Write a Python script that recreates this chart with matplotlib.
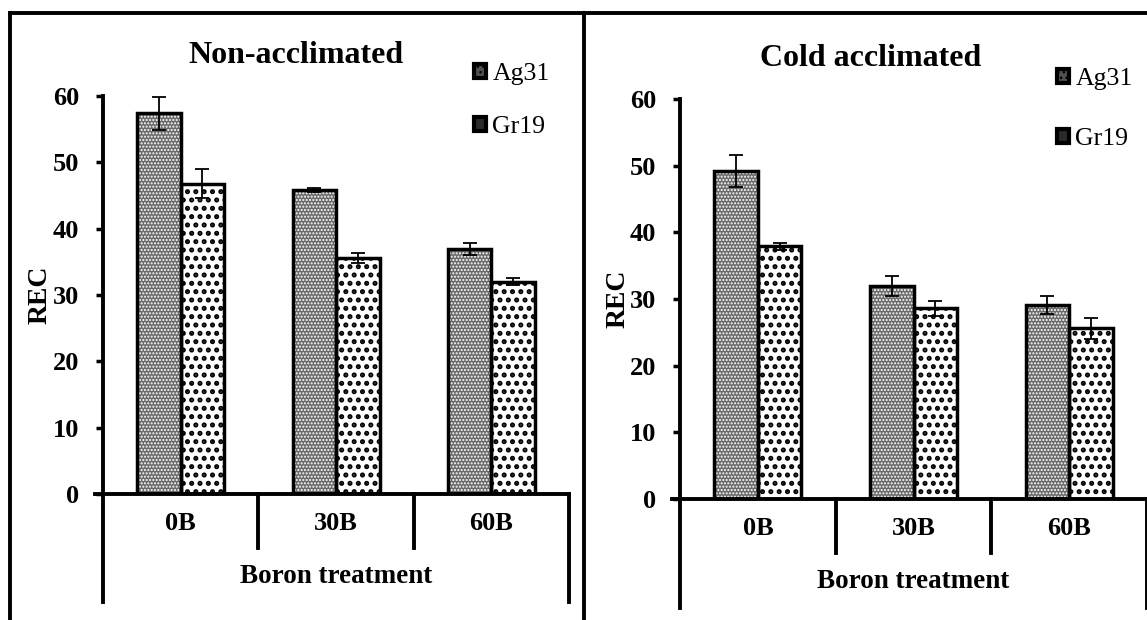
import matplotlib.pyplot as plt
from matplotlib.lines import Line2D
from matplotlib.patches import Patch
import numpy as np

plt.rcParams['font.family'] = ['Liberation Serif', 'DejaVu Serif']

categories = ["0B", "30B", "60B"]
series = ["Ag31", "Gr19"]

# Non-acclimated
non_ag31 = [57.4, 45.9, 37.0]
non_ag31_err = [2.5, 0.3, 0.9]
non_gr19 = [46.8, 35.6, 32.0]
non_gr19_err = [2.2, 0.8, 0.5]

# Cold acclimated
cold_ag31 = [49.2, 31.9, 29.1]
cold_ag31_err = [2.4, 1.5, 1.4]
cold_gr19 = [37.9, 28.6, 25.6]
cold_gr19_err = [0.5, 1.1, 1.6]

fs = 19
bar_w = 0.28
ag_face, ag_hatch = "#6a6a6a", "....."
gr_face, gr_hatch = "white", ".."


def draw_panel(ax, ag, ag_err, gr, gr_err, title, title_xy, leg_xy, leg_space):
    x = np.arange(len(categories))
    for xs, vals, errs, face, hatch, hcol, hlw in [
        (x - bar_w / 2, ag, ag_err, ag_face, ag_hatch, "white", 1.0),
        (x + bar_w / 2, gr, gr_err, gr_face, gr_hatch, "black", 2.4),
    ]:
        with plt.rc_context({"hatch.linewidth": hlw}):
            ax.bar(xs, vals, bar_w, color=face, hatch=hatch, edgecolor=hcol, linewidth=0, zorder=2)
        ax.bar(xs, vals, bar_w, fill=False, edgecolor="black", linewidth=2.5, zorder=3)
        ax.errorbar(xs, vals, yerr=errs, fmt="none", ecolor="black", elinewidth=1.3,
                    capsize=5, capthick=1.3, zorder=4)

    ax.set_xlim(-0.5, 2.5)
    ax.set_ylim(0, 60)
    ax.set_yticks(range(0, 61, 10))
    ax.set_xticks(x)
    ax.set_xticklabels(categories, fontweight="bold", fontsize=fs)
    ax.tick_params(axis="x", length=0, pad=13)
    ax.tick_params(axis="y", length=5, width=2.5, direction="out", pad=12, labelsize=fs)
    for lab in ax.get_yticklabels():
        lab.set_fontweight("bold")
    for s in ["top", "right"]:
        ax.spines[s].set_visible(False)
    for s in ["left", "bottom"]:
        ax.spines[s].set_linewidth(2.8)
    ax.spines["bottom"].set_bounds(-0.55, 2.5)

    # category separators below the axis
    trans = ax.get_xaxis_transform()
    for xv in [-0.5, 0.5, 1.5, 2.5]:
        bottom = -0.272 if xv in (-0.5, 2.5) else -0.136
        ax.add_line(Line2D([xv, xv], [0, bottom], transform=trans, color="black",
                           linewidth=2.8, clip_on=False))

    ax.text(0.5, -0.207, "Boron treatment", transform=ax.transAxes, ha="center",
            va="center", fontsize=fs + 0.5, fontweight="bold")
    ax.set_ylabel("REC", fontsize=fs + 1, fontweight="bold", labelpad=0)
    ax.figure.text(title_xy[0], title_xy[1], title, ha="center", va="center",
                   fontsize=fs + 4, fontweight="bold")

    with plt.rc_context({"hatch.linewidth": 1.0}):
        handles = [Patch(facecolor="#505050", hatch="...", edgecolor="black", linewidth=3),
                   Patch(facecolor="#2a2a2a", edgecolor="black", linewidth=3)]
    ax.legend(handles, series, loc="upper left", bbox_to_anchor=leg_xy, frameon=False,
              fontsize=fs - 0.5, handlelength=0.45, handleheight=0.45, handletextpad=0.25,
              labelspacing=leg_space, borderpad=0, borderaxespad=0)


fig = plt.figure(figsize=(11.47, 6.2), dpi=100)
ax1 = fig.add_axes([0.0898, 0.2032, 0.4063, 0.642])
ax2 = fig.add_axes([0.5929, 0.1952, 0.4072, 0.6452])

draw_panel(ax1, non_ag31, non_ag31_err, non_gr19, non_gr19_err, "Non-acclimated",
           (0.258, 0.911), (0.797, 1.083), 1.22)
draw_panel(ax2, cold_ag31, cold_ag31_err, cold_gr19, cold_gr19_err, "Cold acclimated",
           (0.759, 0.906), (0.808, 1.078), 1.48)

# outer frame
top = 1 - 13 / 620
for xs, ys in [([10 / 1147, 1.0], [top, top]),
               ([10 / 1147, 10 / 1147], [0, top]),
               ([584 / 1147, 584 / 1147], [0, top])]:
    fig.add_artist(Line2D(xs, ys, transform=fig.transFigure, color="black", linewidth=2.8))

fig.savefig("out.png", dpi=100)
